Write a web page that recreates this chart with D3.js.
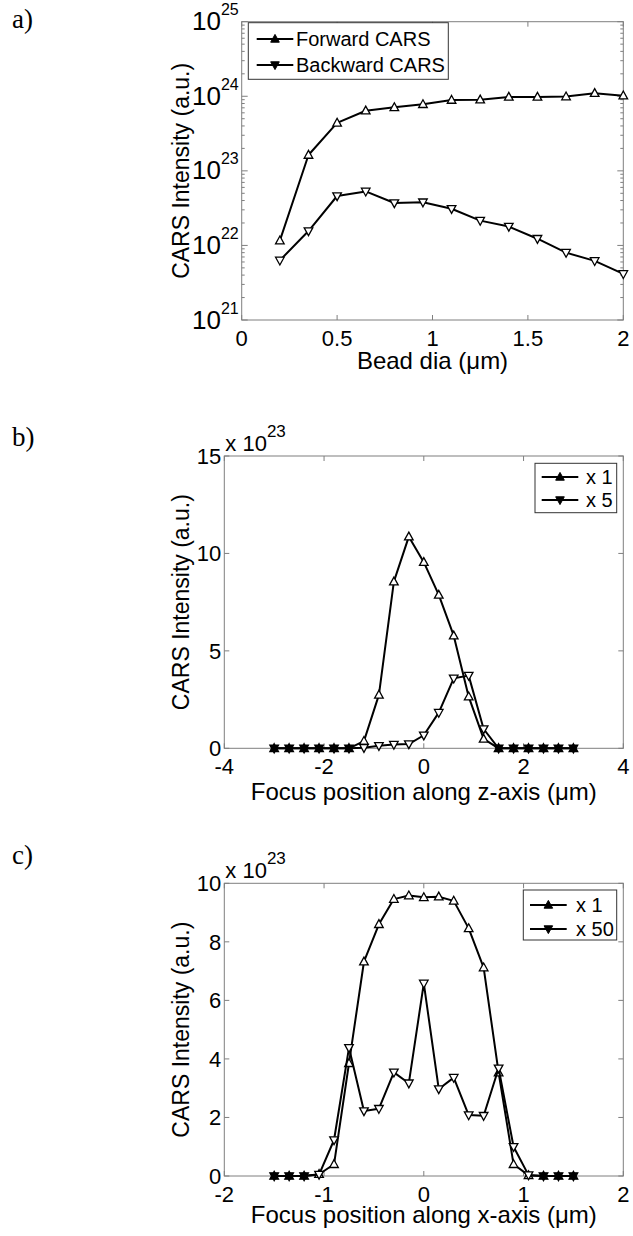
<!DOCTYPE html>
<html>
<head>
<meta charset="utf-8">
<script src="https://cdnjs.cloudflare.com/ajax/libs/d3/7.8.5/d3.min.js"></script>
<style>
  body { margin: 0; background: #fff; }
  svg text { font-family: "Liberation Sans", Arial, sans-serif; fill: #000; }
</style>
</head>
<body>
<div id="chart"></div>
<script>
// a) intensity vs bead diameter (log scale)
const beadDia = [0.2, 0.35, 0.5, 0.65, 0.8, 0.95, 1.1, 1.25, 1.4, 1.55, 1.7, 1.85, 2.0];
const forwardCars = [1.16e22, 1.63e23, 4.4e23, 6.4e23, 7.1e23, 7.8e23, 8.9e23, 9.0e23, 9.8e23, 9.8e23, 9.9e23, 1.1e24, 1.02e24];
const backwardCars = [6.3e21, 1.56e22, 4.6e22, 5.3e22, 3.7e22, 3.8e22, 3.1e22, 2.15e22, 1.79e22, 1.23e22, 8.0e21, 6.2e21, 4.15e21];
const beadTicks = [0, 0.5, 1, 1.5, 2];
const logTicks = [21, 22, 23, 24, 25];

// b) scan along z (values in units of 10^23)
const zPos = [-3, -2.7, -2.4, -2.1, -1.8, -1.5, -1.2, -0.9, -0.6, -0.3, 0, 0.3, 0.6, 0.9, 1.2, 1.5, 1.8, 2.1, 2.4, 2.7, 3];
const zForward = [0, 0, 0, 0, 0, 0, 0.37, 2.74, 8.55, 10.86, 9.55, 7.87, 5.78, 2.65, 0.48, 0, 0, 0, 0, 0, 0];
const zBackward = [0, 0, 0, 0, 0, 0, 0.03, 0.13, 0.19, 0.22, 0.67, 1.83, 3.59, 3.73, 0.99, 0, 0, 0, 0, 0, 0];
const zTicksX = [-4, -2, 0, 2, 4];
const zTicksY = [0, 5, 10, 15];

// c) scan along x (values in units of 10^23)
const xPos = [-1.5, -1.35, -1.2, -1.05, -0.9, -0.75, -0.6, -0.45, -0.3, -0.15, 0, 0.15, 0.3, 0.45, 0.6, 0.75, 0.9, 1.05, 1.2, 1.35, 1.5];
const xForward = [0, 0, 0, 0.06, 0.4, 3.85, 7.32, 8.6, 9.46, 9.58, 9.52, 9.54, 9.4, 8.46, 7.12, 3.53, 0.4, 0.02, 0, 0, 0];
const xBackward = [0, 0, 0, 0.05, 1.23, 4.38, 2.22, 2.3, 3.54, 3.17, 6.58, 2.97, 3.36, 2.08, 2.06, 3.68, 1.0, 0.03, 0, 0, 0];
const xTicksX = [-2, -1, 0, 1, 2];
const xTicksY = [0, 2, 4, 6, 8, 10];

const W = 633, H = 1236;
const axisGray = "#7f7f7f";
const upTri = "M0,-4.6L4.3,3.2L-4.3,3.2Z";
const downTri = "M0,4.6L4.3,-3.2L-4.3,-3.2Z";

const svg = d3.select("#chart")
    .append("svg")
    .attr("width", W)
    .attr("height", H)
    .attr("viewBox", `0 0 ${W} ${H}`);

// panel letters
[["a)", 12, 28], ["b)", 12, 446], ["c)", 12, 864]].forEach(([t, x, y]) => {
    svg.append("text").attr("x", x).attr("y", y).text(t)
        .style("font-family", "'Liberation Serif', 'DejaVu Serif', serif")
        .style("font-size", "27px");
});

function frame(g, box) {
    g.append("rect")
        .attr("x", box.left).attr("y", box.top)
        .attr("width", box.right - box.left).attr("height", box.bottom - box.top)
        .attr("fill", "none").attr("stroke", axisGray).attr("stroke-width", 1);
}

function xTicks(g, x, ticks, box) {
    ticks.forEach(t => {
        const px = x(t);
        g.append("line").attr("x1", px).attr("x2", px).attr("y1", box.bottom).attr("y2", box.bottom - 5)
            .attr("stroke", axisGray);
        g.append("line").attr("x1", px).attr("x2", px).attr("y1", box.top).attr("y2", box.top + 5)
            .attr("stroke", axisGray);
        g.append("text").attr("x", px).attr("y", box.bottom + 25.5)
            .attr("text-anchor", "middle").style("font-size", "22px").text(t);
    });
}

// markers where both series sit on the same value show up as solid dots
function series(g, x, y, xs, ys, other, path) {
    const line = d3.line().x((d, i) => x(xs[i])).y(d => y(d));
    g.append("path").datum(ys).attr("d", line)
        .attr("fill", "none").attr("stroke", "#000").attr("stroke-width", 2).attr("stroke-linejoin", "round");
    g.selectAll(null).data(ys).enter().append("path")
        .attr("transform", (d, i) => `translate(${x(xs[i])},${y(d)})`)
        .attr("d", path)
        .attr("fill", (d, i) => d === other[i] ? "#000" : "#fff")
        .attr("stroke", "#000").attr("stroke-width", 1.3);
}

function legend(g, lg, labels) {
    g.append("rect").attr("x", lg.x).attr("y", lg.y).attr("width", lg.w).attr("height", lg.h)
        .attr("fill", "#fff").attr("stroke", "#333").attr("stroke-width", 1);
    labels.forEach((lab, i) => {
        const cy = lg.rows[i];
        g.append("line").attr("x1", lg.x1).attr("x2", lg.x2).attr("y1", cy).attr("y2", cy)
            .attr("stroke", "#000").attr("stroke-width", 2);
        g.append("path").attr("transform", `translate(${(lg.x1 + lg.x2) / 2},${cy})`)
            .attr("d", i === 0 ? upTri : downTri).attr("fill", "#000").attr("stroke", "#000");
        g.append("text").attr("x", lg.tx).attr("y", cy).attr("dy", "0.36em")
            .style("font-size", lg.fs).text(lab);
    });
}

// ---------- panel a ----------
{
    const box = { left: 241.7, right: 623.3, top: 21.7, bottom: 320 };
    const g = svg.append("g");
    const x = d3.scaleLinear().domain([0, 2]).range([box.left, box.right]);
    const y = d3.scaleLog().domain([1e21, 1e25]).range([box.bottom, box.top]);

    frame(g, box);
    xTicks(g, x, beadTicks, box);

    logTicks.forEach(p => {
        const py = y(Math.pow(10, p));
        [[box.left, 6], [box.right, -6]].forEach(([px, len]) => {
            g.append("line").attr("x1", px).attr("x2", px + len).attr("y1", py).attr("y2", py).attr("stroke", axisGray);
        });
        const t = g.append("text").attr("x", box.left - 3).attr("y", py + 8.5).attr("text-anchor", "end");
        t.append("tspan").style("font-size", "26px").text("10");
        t.append("tspan").attr("dy", -15).style("font-size", "16px").text(p);
        if (p < 25) {
            for (let k = 2; k <= 9; k++) {
                const my = y(k * Math.pow(10, p));
                [[box.left, 3], [box.right, -3]].forEach(([px, len]) => {
                    g.append("line").attr("x1", px).attr("x2", px + len).attr("y1", my).attr("y2", my).attr("stroke", axisGray);
                });
            }
        }
    });

    series(g, x, y, beadDia, forwardCars, backwardCars, upTri);
    series(g, x, y, beadDia, backwardCars, forwardCars, downTri);

    legend(g, { x: 248.3, y: 22.7, w: 200, h: 56.6, x1: 256.7, x2: 293.3, tx: 296, rows: [39, 65], fs: "20px" },
        ["Forward CARS", "Backward CARS"]);

    g.append("text").attr("x", (box.left + box.right) / 2).attr("y", 369)
        .attr("text-anchor", "middle").style("font-size", "24px").text("Bead dia (\u03bcm)");
    g.append("text").attr("transform", `translate(189,${(box.top + box.bottom) / 2}) rotate(-90)`)
        .attr("text-anchor", "middle").style("font-size", "23px").text("CARS Intensity (a.u.)");
}

// ---------- panels b and c ----------
function linearPanel(opt) {
    const box = opt.box;
    const g = svg.append("g");
    const x = d3.scaleLinear().domain(opt.xDomain).range([box.left, box.right]);
    const y = d3.scaleLinear().domain(opt.yDomain).range([box.bottom, box.top]);

    frame(g, box);
    xTicks(g, x, opt.xTicks, box);

    opt.yTicks.forEach(t => {
        const py = y(t);
        [[box.left, 5], [box.right, -5]].forEach(([px, len]) => {
            g.append("line").attr("x1", px).attr("x2", px + len).attr("y1", py).attr("y2", py).attr("stroke", axisGray);
        });
        g.append("text").attr("x", box.left - 3).attr("y", py).attr("dy", "0.36em")
            .attr("text-anchor", "end").style("font-size", "22px").text(t);
    });

    const ex = g.append("text").attr("x", box.left + 1).attr("y", box.top - 5.5);
    ex.append("tspan").style("font-size", "22px").text("x 10");
    ex.append("tspan").attr("dy", -14).style("font-size", "17px").text("23");

    series(g, x, y, opt.xs, opt.fwd, opt.bwd, upTri);
    series(g, x, y, opt.xs, opt.bwd, opt.fwd, downTri);

    legend(g, opt.legend, opt.labels);

    g.append("text").attr("x", (box.left + box.right) / 2).attr("y", opt.xLabelY)
        .attr("text-anchor", "middle").style("font-size", "24px").text(opt.xLabel);
    g.append("text").attr("transform", `translate(189,${(box.top + box.bottom) / 2}) rotate(-90)`)
        .attr("text-anchor", "middle").style("font-size", "23px").text("CARS Intensity (a.u.)");
}

linearPanel({
    box: { left: 224.3, right: 623.3, top: 456, bottom: 748.3 },
    xDomain: [-4, 4], yDomain: [0, 15],
    xTicks: zTicksX, yTicks: zTicksY,
    xs: zPos, fwd: zForward, bwd: zBackward,
    legend: { x: 535, y: 463.3, w: 81.7, h: 49.4, x1: 541.7, x2: 578.3, tx: 586, rows: [477, 500], fs: "20px" },
    labels: ["x 1", "x 5"],
    xLabel: "Focus position along z-axis (\u03bcm)", xLabelY: 800
});

linearPanel({
    box: { left: 224.3, right: 623.3, top: 883.3, bottom: 1176 },
    xDomain: [-2, 2], yDomain: [0, 10],
    xTicks: xTicksX, yTicks: xTicksY,
    xs: xPos, fwd: xForward, bwd: xBackward,
    legend: { x: 523.3, y: 890, w: 93.4, h: 50, x1: 530, x2: 566.7, tx: 576, rows: [905, 929], fs: "20px" },
    labels: ["x 1", "x 50"],
    xLabel: "Focus position along x-axis (\u03bcm)", xLabelY: 1223
});
</script>
</body>
</html>
